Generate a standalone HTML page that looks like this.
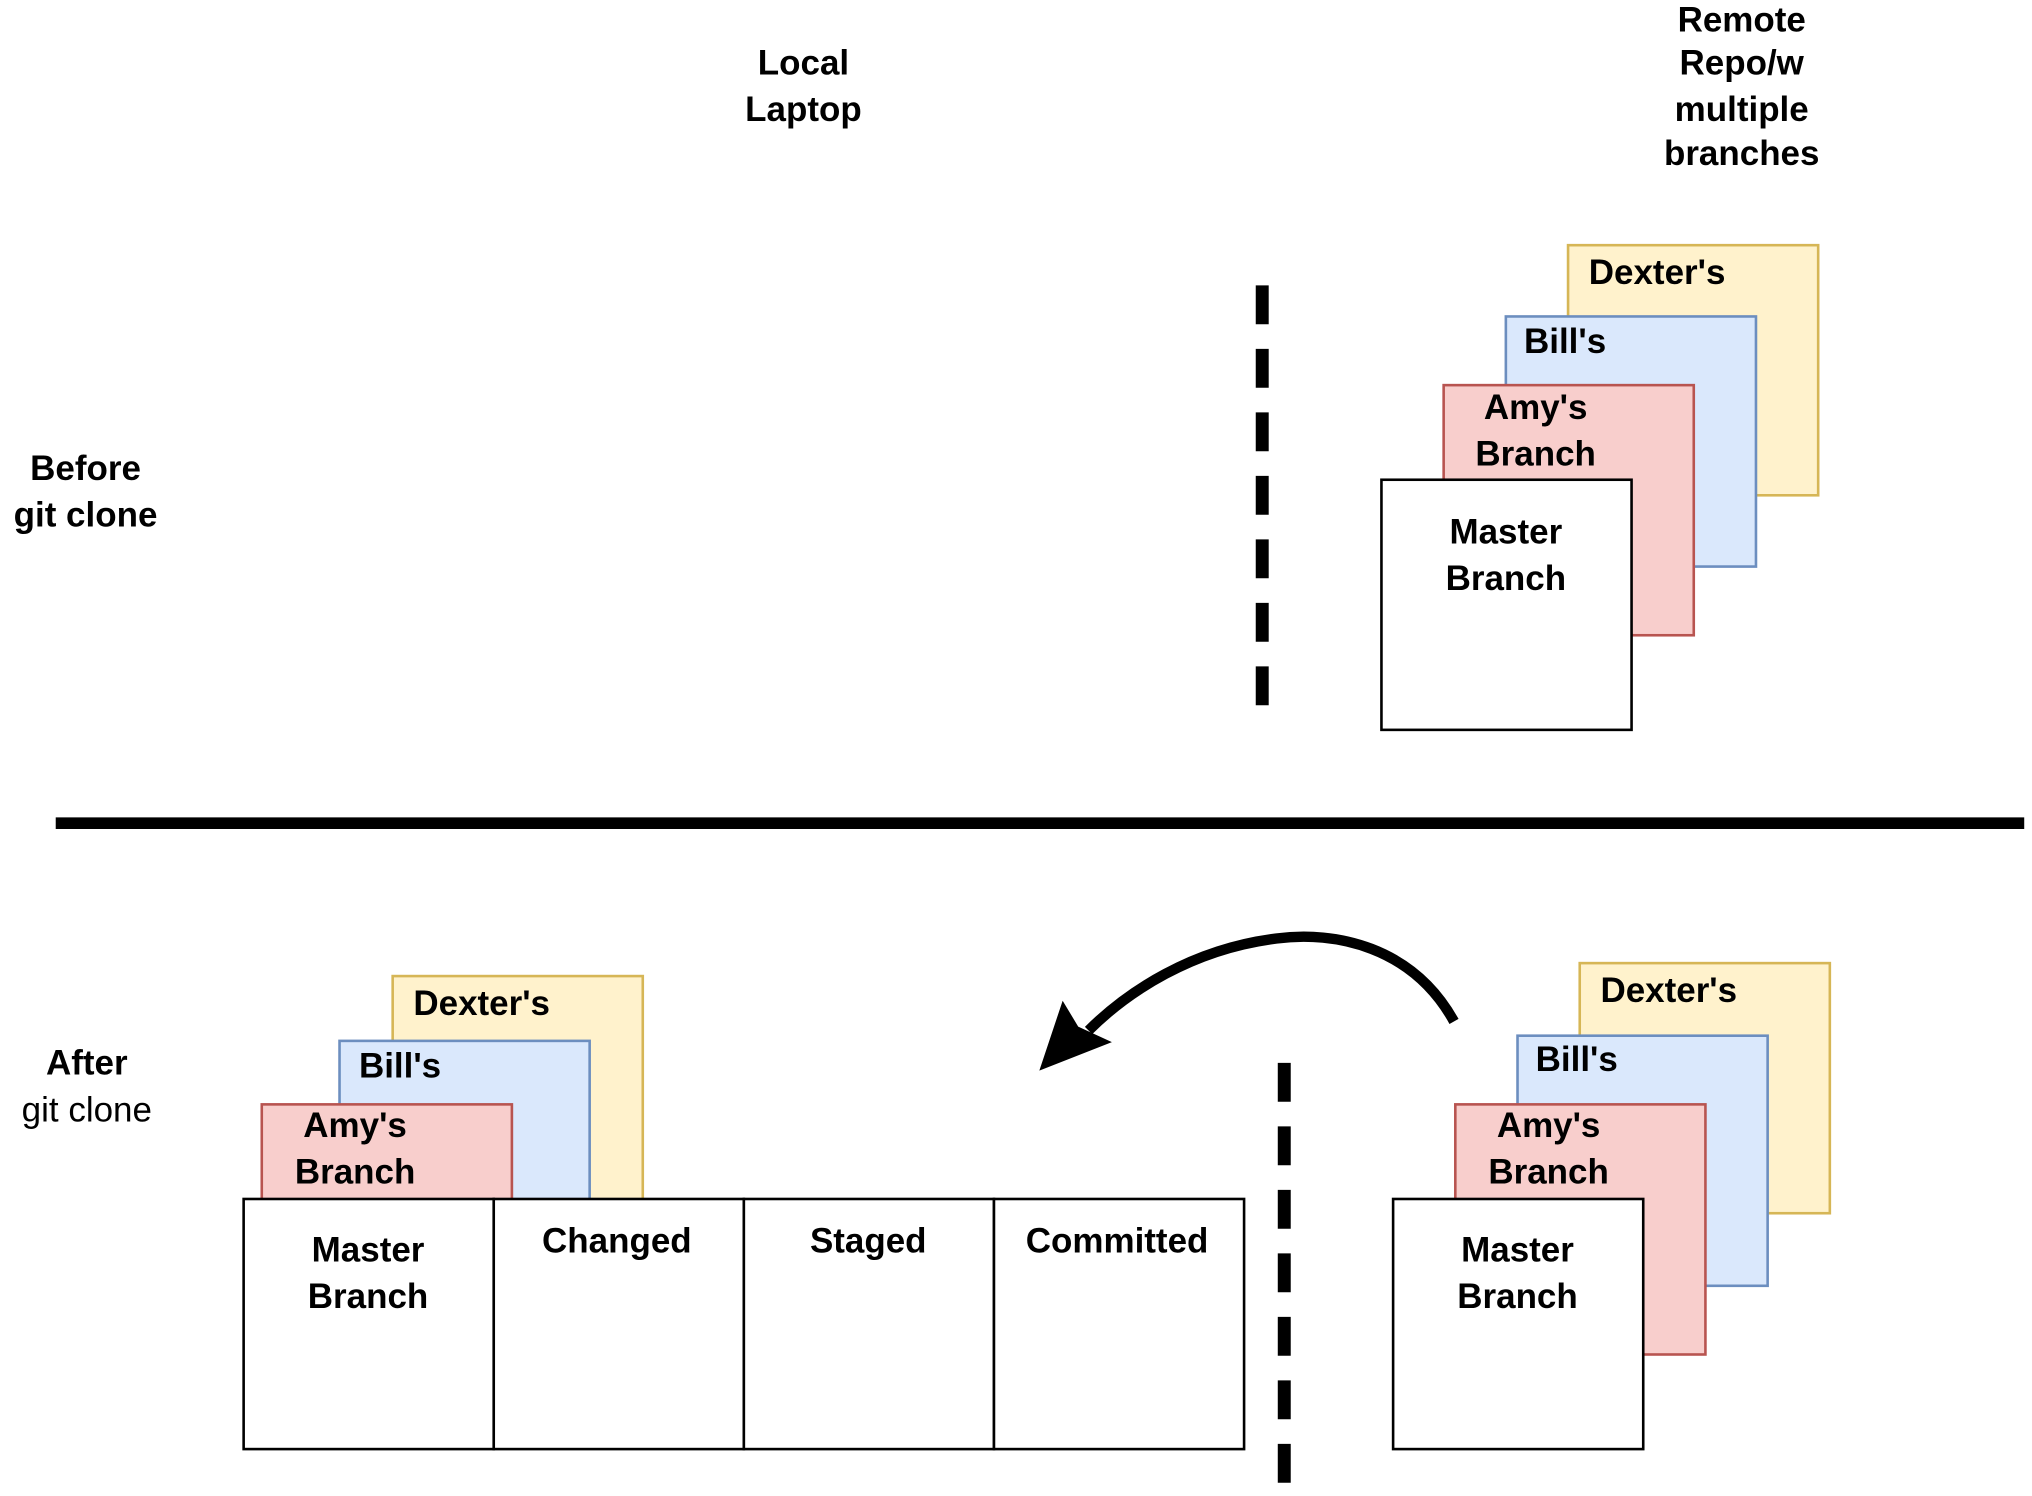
<!DOCTYPE html>
<html><head><meta charset="utf-8"><style>
html,body{margin:0;padding:0;background:#fff;}
svg{display:block;}
text{font-family:"Liberation Sans",Arial,sans-serif;font-size:27px;font-weight:bold;fill:#000;dominant-baseline:middle;}
</style></head><body>
<svg width="2032" height="1496" viewBox="0 0 1568 1154" xmlns="http://www.w3.org/2000/svg">
<text x="620" y="50" text-anchor="middle">Local</text>
<text x="620" y="86" text-anchor="middle">Laptop</text>
<text x="1344" y="17" text-anchor="middle">Remote</text>
<text x="1344" y="50" text-anchor="middle">Repo/w</text>
<text x="1344" y="86" text-anchor="middle">multiple</text>
<text x="1344" y="120" text-anchor="middle">branches</text>
<text x="66" y="363" text-anchor="middle">Before</text>
<text x="66" y="399" text-anchor="middle">git clone</text>
<line x1="974" y1="220" x2="974" y2="545" stroke="#000" stroke-width="10" stroke-dasharray="30,19"/>
<rect x="1210" y="189" width="193" height="193" fill="#fff2cc" stroke="#d6b656" stroke-width="2"/>
<rect x="1162" y="244" width="193" height="193" fill="#dae8fc" stroke="#6c8ebf" stroke-width="2"/>
<rect x="1114" y="297" width="193" height="193" fill="#f8cecc" stroke="#b85450" stroke-width="2"/>
<rect x="1066" y="370" width="193" height="193" fill="#fff" stroke="#000" stroke-width="2"/>
<text x="1226" y="212">Dexter's</text>
<text x="1176" y="265">Bill's</text>
<text x="1185" y="316" text-anchor="middle">Amy's</text>
<text x="1185" y="352" text-anchor="middle">Branch</text>
<text x="1162" y="412" text-anchor="middle">Master</text>
<text x="1162" y="448" text-anchor="middle">Branch</text>
<line x1="43" y1="635" x2="1562" y2="635" stroke="#000" stroke-width="9"/>
<text x="67" y="822" text-anchor="middle">After</text>
<text x="67" y="858" text-anchor="middle" style="font-weight:normal">git clone</text>
<rect x="303" y="753" width="193" height="193" fill="#fff2cc" stroke="#d6b656" stroke-width="2"/>
<rect x="262" y="803" width="193" height="193" fill="#dae8fc" stroke="#6c8ebf" stroke-width="2"/>
<rect x="202" y="852" width="193" height="193" fill="#f8cecc" stroke="#b85450" stroke-width="2"/>
<rect x="188" y="925" width="193" height="193" fill="#fff" stroke="#000" stroke-width="2"/>
<rect x="381" y="925" width="193" height="193" fill="#fff" stroke="#000" stroke-width="2"/>
<rect x="574" y="925" width="193" height="193" fill="#fff" stroke="#000" stroke-width="2"/>
<rect x="767" y="925" width="193" height="193" fill="#fff" stroke="#000" stroke-width="2"/>
<text x="319" y="776">Dexter's</text>
<text x="277" y="824">Bill's</text>
<text x="274" y="870" text-anchor="middle">Amy's</text>
<text x="274" y="906" text-anchor="middle">Branch</text>
<text x="284" y="966" text-anchor="middle">Master</text>
<text x="284" y="1002" text-anchor="middle">Branch</text>
<text x="476" y="959" text-anchor="middle">Changed</text>
<text x="670" y="959" text-anchor="middle">Staged</text>
<text x="862" y="959" text-anchor="middle">Committed</text>
<line x1="991" y1="820" x2="991" y2="1145" stroke="#000" stroke-width="10" stroke-dasharray="30,19"/>
<rect x="1219" y="743" width="193" height="193" fill="#fff2cc" stroke="#d6b656" stroke-width="2"/>
<rect x="1171" y="799" width="193" height="193" fill="#dae8fc" stroke="#6c8ebf" stroke-width="2"/>
<rect x="1123" y="852" width="193" height="193" fill="#f8cecc" stroke="#b85450" stroke-width="2"/>
<rect x="1075" y="925" width="193" height="193" fill="#fff" stroke="#000" stroke-width="2"/>
<text x="1235" y="766">Dexter's</text>
<text x="1185" y="819">Bill's</text>
<text x="1195" y="870" text-anchor="middle">Amy's</text>
<text x="1195" y="906" text-anchor="middle">Branch</text>
<text x="1171" y="966" text-anchor="middle">Master</text>
<text x="1171" y="1002" text-anchor="middle">Branch</text>
<path d="M1122,788 C1090,730 1030,718 985,724 C920,732 870,765 840,795" fill="none" stroke="#000" stroke-width="8"/>
<polygon points="802,826 820,772 832,792 858,804" fill="#000"/>
</svg>
</body></html>
